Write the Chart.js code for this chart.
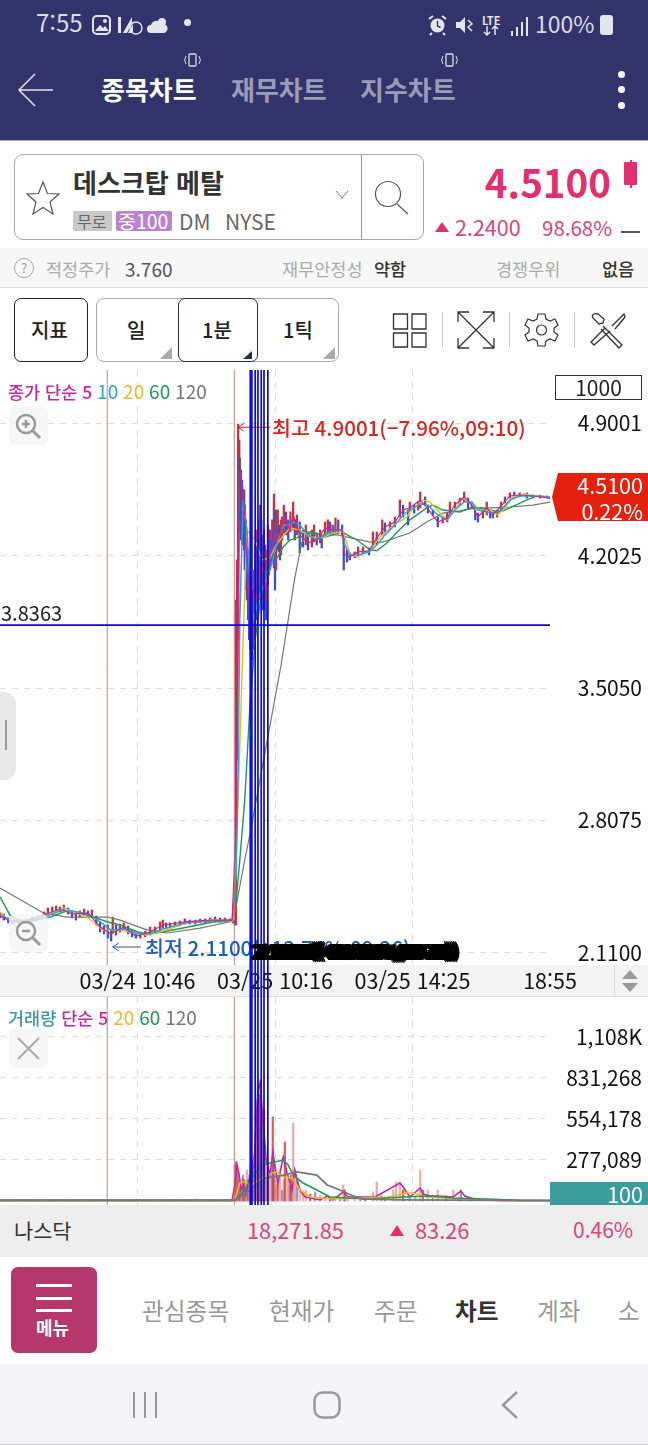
<!DOCTYPE html>
<html lang="ko"><head><meta charset="utf-8">
<script src="https://cdn.jsdelivr.net/npm/chart.js@4"></script>
<style>
html,body{margin:0;padding:0;background:#fff;width:648px;height:1445px;overflow:hidden;font-family:"Noto Sans CJK KR","Noto Sans",sans-serif}
.t{position:absolute;white-space:nowrap;line-height:1}
.b{position:absolute;box-sizing:border-box}
svg{position:absolute;overflow:visible}
canvas{position:absolute;left:0}
</style></head><body>
<script>
// ---------- price panel data ----------
const candleBars=[0,7,15,22,33,45,58,69,80,87,95,102,109,116,124,131,138,145,153,160,167,175,182,189,196,202,205,211,218,225,233,240,247,255,264,273,282,291,296,302,309,318,327,336,345,355,364,373,382,391,400,409,418,424,
427,429,431,433,435,436,438,440,442,444,445,447,449,451,453,455,456,458,460,462,464,465,467,469,471,473,475,476,478,480,482,484,485,487,489,491,493,495,496,498,500,502,504,505,507,509,511,513,516,520,524,528,533,536,540,545,551,556,560,567,571,576,582,585,591,596,600,605,610,615,622,625,631,636,645,651,660,671,678,685,695,700,709,718,727,733,742,745,753,760,764,773,778,787,796,805,813,818,827,836,844,851,858,864,869,878,885,891,896,904,911,918,927,935,945,958,969,982,995,1000];
const candleHigh=[2.319,2.314,2.293,2.282,2.288,2.282,2.298,2.303,2.325,2.346,2.351,2.356,2.351,2.361,2.346,2.325,2.314,2.330,2.340,2.330,2.335,2.303,2.272,2.251,2.256,2.230,2.298,2.256,2.261,2.267,2.251,2.230,2.214,2.219,2.224,2.245,2.245,2.272,2.282,2.267,2.267,2.272,2.277,2.288,2.282,2.282,2.288,2.288,2.293,2.298,2.293,2.293,2.288,2.288,
2.288,3.969,4.180,4.896,4.812,4.717,4.654,4.601,4.549,4.549,4.469,4.391,4.338,4.233,4.127,4.022,3.969,3.917,4.022,4.127,4.259,4.338,4.285,4.233,4.391,4.469,4.391,4.312,4.285,4.338,4.259,4.180,4.233,4.364,4.285,4.338,4.285,4.391,4.338,4.527,4.443,4.443,4.391,4.443,4.364,4.338,4.391,4.406,4.469,4.433,4.391,4.433,4.485,4.391,4.417,4.380,4.338,4.364,4.322,4.338,4.364,4.322,4.338,4.301,4.380,4.391,4.380,4.364,4.401,4.391,4.364,4.322,4.233,4.217,4.222,4.248,4.248,4.243,4.327,4.327,4.391,4.375,4.380,4.406,4.496,4.469,4.443,4.485,4.469,4.485,4.538,4.512,4.469,4.443,4.406,4.406,4.427,4.485,4.485,4.506,4.538,4.506,4.480,4.443,4.427,4.443,4.485,4.433,4.427,4.443,4.485,4.512,4.533,4.538,4.533,4.533,4.522,4.522,4.517,4.512];
const candleLow=[2.293,2.282,2.267,2.261,2.267,2.267,2.272,2.282,2.298,2.314,2.325,2.330,2.325,2.335,2.314,2.293,2.282,2.298,2.309,2.303,2.303,2.256,2.219,2.209,2.187,2.172,2.214,2.203,2.219,2.230,2.209,2.193,2.187,2.187,2.193,2.203,2.214,2.224,2.240,2.240,2.245,2.251,2.251,2.261,2.261,2.261,2.267,2.267,2.272,2.272,2.272,2.272,2.272,2.267,
2.256,2.256,3.127,3.759,4.338,4.391,4.285,4.259,4.338,4.233,4.127,4.022,3.969,3.864,3.759,3.707,3.680,3.654,3.707,3.759,3.838,3.917,3.864,3.864,3.969,4.022,3.969,3.917,3.917,3.969,3.917,3.864,3.969,4.048,4.101,4.127,4.154,4.206,4.180,4.138,4.022,4.127,4.233,4.259,4.222,4.180,4.206,4.285,4.322,4.312,4.285,4.327,4.338,4.285,4.312,4.217,4.248,4.259,4.233,4.248,4.275,4.259,4.270,4.243,4.301,4.322,4.317,4.312,4.327,4.322,4.312,4.127,4.169,4.180,4.191,4.196,4.217,4.206,4.259,4.259,4.312,4.327,4.338,4.354,4.406,4.406,4.364,4.433,4.427,4.443,4.454,4.469,4.427,4.417,4.354,4.375,4.380,4.427,4.454,4.469,4.485,4.454,4.454,4.391,4.380,4.401,4.417,4.401,4.401,4.406,4.443,4.480,4.506,4.512,4.512,4.506,4.506,4.506,4.506,4.501];
const ma5Bars=[0,22,45,80,109,131,160,182,202,225,247,273,296,336,382,422,429,433,436,442,449,455,462,469,476,484,491,500,509,516,527,533,545,560,576,591,605,622,627,636,651,671,685,700,718,733,745,764,778,796,813,827,844,858,869,885,896,911,927,945,969,1000];
const ma5=[2.303,2.272,2.277,2.309,2.340,2.314,2.319,2.245,2.209,2.245,2.198,2.219,2.256,2.272,2.282,2.282,2.757,3.707,4.654,4.549,4.180,3.864,3.917,4.022,4.154,4.022,4.206,4.312,4.312,4.417,4.338,4.417,4.312,4.270,4.285,4.348,4.338,4.338,4.206,4.196,4.222,4.228,4.296,4.354,4.380,4.443,4.454,4.496,4.449,4.380,4.401,4.469,4.512,4.469,4.406,4.454,4.417,4.464,4.517,4.522,4.517,4.506];
const ma10=[2.309,2.282,2.277,2.298,2.330,2.330,2.314,2.272,2.230,2.235,2.214,2.209,2.235,2.267,2.277,2.282,2.494,3.073,3.864,4.496,4.338,4.022,3.864,3.969,4.022,4.074,4.127,4.233,4.312,4.364,4.364,4.380,4.364,4.312,4.285,4.312,4.338,4.338,4.259,4.206,4.206,4.222,4.259,4.312,4.364,4.417,4.443,4.475,4.469,4.417,4.391,4.443,4.485,4.485,4.443,4.433,4.427,4.443,4.496,4.517,4.517,4.512];
const ma20Bars=[0,18,42,73,115,158,187,218,242,267,291,340,387,422,425,433,442,449,464,476,491,500,509,527,545,564,587,605,624,636,649,673,691,715,740,745,769,782,800,813,824,842,860,873,891,905,918,933,951,976,1000];
const ma20=[2.325,2.277,2.282,2.293,2.346,2.298,2.230,2.230,2.214,2.203,2.219,2.267,2.282,2.277,2.282,2.915,3.759,4.338,4.285,4.180,4.191,4.248,4.285,4.348,4.338,4.301,4.296,4.322,4.327,4.217,4.196,4.233,4.301,4.364,4.406,4.433,4.496,4.485,4.427,4.391,4.433,4.506,4.469,4.443,4.443,4.417,4.454,4.512,4.527,4.517,4.512];
const ma60Bars=[0,18,36,60,91,122,158,196,218,255,285,333,387,422,429,436,445,455,464,476,491,504,515,527,540,551,569,591,622,649,673,685,704,722,745,776,787,805,836,860,891,909,927,958,976,1000];
const ma60=[2.404,2.309,2.272,2.277,2.298,2.330,2.309,2.272,2.256,2.214,2.214,2.240,2.272,2.277,2.372,2.599,2.915,3.442,3.759,4.022,4.191,4.191,4.248,4.285,4.296,4.327,4.327,4.301,4.327,4.285,4.233,4.228,4.270,4.327,4.391,4.454,4.469,4.443,4.433,4.459,4.443,4.433,4.454,4.496,4.517,4.512];
const ma120Bars=[0,79,122,196,218,267,304,364,424,433,445,455,511,536,549,564,582,613,673,696,745,776,805,836,867,896,927,969,1000];
const ma120=[2.451,2.319,2.298,2.298,2.282,2.230,2.214,2.240,2.277,2.414,2.599,2.742,3.626,4.085,4.274,4.322,4.312,4.312,4.274,4.274,4.322,4.380,4.427,4.438,4.454,4.454,4.459,4.469,4.485];
const priceTicks=[2.1100,2.8075,3.5050,4.2025,4.9001];
const timeTickBars=[250,500,750,1000];
const timeLabels=["03/24 10:46","03/25 10:16","03/25 14:25","18:55"];
const blueLineBars=[455,458,464,469,475,480,487];
const dayLineBars=[195,426];
const drawnPriceLevel=3.8363;
// ---------- volume panel data ----------
const volBars=[9,27,45,64,82,100,118,136,155,173,191,209,227,245,264,282,300,318,336,355,373,391,409,420,
427,429,431,433,435,436,438,440,442,444,445,447,449,451,453,455,456,458,460,462,464,465,467,469,471,473,475,476,478,480,482,484,485,487,489,493,495,496,498,500,502,505,509,513,516,518,520,524,527,529,531,533,536,540,545,551,556,564,573,582,591,600,609,618,624,627,633,645,655,664,678,685,693,700,715,720,727,733,745,755,764,769,778,787,796,811,824,833,838,855,873,909,945,982,1000];
const volume=[7000,6000,9000,7000,6000,8000,6000,7000,9000,7000,6000,8000,7000,10000,7000,6000,7000,9000,12000,14000,7000,6000,7000,6000,
243000,263000,243000,196000,142000,108000,88000,155000,175000,142000,74000,121000,209000,142000,175000,243000,175000,276000,209000,310000,243000,479000,681000,782000,816000,715000,613000,411000,546000,613000,378000,276000,175000,142000,175000,155000,209000,566000,276000,175000,108000,142000,196000,74000,142000,398000,243000,142000,108000,175000,74000,526000,209000,142000,88000,61000,74000,47000,61000,40000,27000,20000,20000,27000,108000,74000,27000,20000,13000,13000,61000,128000,40000,13000,74000,128000,128000,74000,27000,34000,209000,74000,74000,27000,74000,34000,74000,27000,74000,20000,13000,7000,7000,7000,7000];
const volMa5Bars=[0,110,210,330,422,427,431,435,438,442,447,455,462,469,473,478,484,491,496,505,515,522,531,536,545,555,564,582,595,605,624,633,682,727,733,745,764,769,782,796,824,838,845,867,915,1000];
const volMa5=[3000,3000,3000,3000,4000,108000,243000,175000,74000,108000,40000,175000,243000,748000,796000,546000,276000,175000,330000,121000,297000,189000,74000,209000,74000,27000,20000,7000,34000,7000,61000,27000,27000,121000,94000,27000,88000,47000,34000,34000,27000,67000,34000,7000,3000,3000];
const volMa20Bars=[0,422,427,436,442,447,455,495,504,515,531,545,564,582,605,660,704,740,751,776,805,855,885,915,1000];
const volMa20=[3000,3000,7000,121000,128000,128000,108000,189000,196000,162000,155000,74000,27000,20000,13000,20000,27000,54000,54000,27000,20000,13000,7000,3000,3000];
const volMa60Bars=[0,422,427,445,455,469,478,491,515,524,533,551,576,600,631,673,733,782,824,885,945,1000];
const volMa60=[4000,4000,4000,74000,142000,209000,243000,256000,276000,243000,175000,121000,74000,27000,20000,13000,27000,34000,20000,13000,4000,3000];
const volMa120Bars=[0,422,427,455,482,515,540,576,595,618,642,660,733,1000];
const volMa120=[5000,5000,5000,74000,155000,175000,196000,175000,108000,74000,34000,13000,7000,3000];
const volTicks=[277089,554178,831268,1108357];
const volTickLabels=["277,089","554,178","831,268","1,108K"];
// ---------- text ----------
const highLabel="최고 4.9001(−7.96%,09:10)";
const lowLabel="최저 2.1100(+13.74%,09:26)";
const overdrawnLabels=["2.1100(+13.74%,09:26)","2.1100(+12.93%,09:28)","2.1100(+14.02%,09:31)","2.1100(+13.12%,09:32)"];

const FONT='"Noto Sans CJK KR","Noto Sans",sans-serif';
const pts=(xs,ys)=>xs.map((x,i)=>({x,y:ys[i]}));
const line=(xs,ys,color,w,order)=>({type:'line',data:pts(xs,ys),borderColor:color,borderWidth:w,pointRadius:0,tension:0,order,fill:false});
const grid={color:c=>(c.tick&&c.tick.value===1000)?'transparent':'#dedede',lineWidth:1};
const noEdgePadding=s=>{s.paddingTop=0;s.paddingBottom=0;};
const C={ma5:'#c9259e',ma10:'#2ba6d0',ma20:'#eab92c',ma60:'#1f9a55',ma120:'#777777'};
</script>

<!-- header -->
<div class="b" style="left:0;top:0;width:648px;height:141px;background:#32336a;border-bottom:1px solid #a9aabd"></div>
<div class="t" style="left:36px;top:10px;font-size:24px;color:#dcdce8">7:55</div>
<svg style="left:92px;top:15px" width="20" height="20" viewBox="0 0 20 20"><rect x="1" y="1" width="17" height="18" rx="4" fill="none" stroke="#e4e4ef" stroke-width="2"/><path d="M3 16l5-6 3 3 2-2 4 5z" fill="#e4e4ef"/><circle cx="13" cy="6" r="2" fill="#e4e4ef"/></svg>
<svg style="left:117px;top:15px" width="26" height="22" viewBox="0 0 26 22"><path d="M1 2h3v16H1zM6 18L15 2v6l-5 10zM11 18l5-9v9z" fill="#e4e4ef"/><circle cx="19" cy="13" r="6" fill="none" stroke="#e4e4ef" stroke-width="1.4"/></svg>
<svg style="left:148px;top:14px" width="22" height="22" viewBox="0 0 22 22"><circle cx="14" cy="8" r="4" fill="#e4e4ef"/><path d="M3 19a4 4 0 010-8 6 6 0 0111-1 4.500 4.500 0 012 9z" fill="#e4e4ef"/></svg>
<div class="b" style="left:184px;top:19px;width:7px;height:7px;border-radius:50%;background:#e4e4ef"></div>
<svg style="left:428px;top:14px" width="20" height="22" viewBox="0 0 20 22"><circle cx="9.500" cy="11.500" r="7" fill="#e4e4ef"/><path d="M9.500 7v5l3 1.500" stroke="#32336a" stroke-width="1.400" fill="none"/><path d="M1 5l4-3M18 5l-4-3M4 19l-2 2M15 19l2 2" stroke="#e4e4ef" stroke-width="2"/></svg>
<svg style="left:455px;top:15px" width="18" height="20" viewBox="0 0 18 20"><path d="M1 7h4l5-5v16l-5-5H1z" fill="#e4e4ef"/><path d="M13 5l4 4-4 3 4 4" stroke="#e4e4ef" stroke-width="1.500" fill="none"/></svg>
<div class="t" style="left:482px;top:15px;font-size:11px;font-weight:700;color:#e4e4ef">LTE</div>
<svg style="left:483px;top:26px" width="18" height="10" viewBox="0 0 18 10"><path d="M4 0v9M1 6l3 3 3-3M12 9V0M9 3l3-3 3 3" stroke="#e4e4ef" stroke-width="1.500" fill="none"/></svg>
<svg style="left:510px;top:16px" width="18" height="21" viewBox="0 0 18 21"><path d="M2 15v5M7 11v9M12 6v14M17 1v19" stroke="#e4e4ef" stroke-width="2"/></svg>
<div class="t" style="left:535px;top:12px;font-size:23px;color:#dcdce8">100%</div>
<div class="b" style="left:600px;top:15px;width:13px;height:20px;border-radius:3px;background:#e4e4ef"></div>
<svg style="left:18px;top:73px" width="36" height="34" viewBox="0 0 36 34"><path d="M35 17H1M17 1L1 17l16 16" stroke="#e4e4ef" stroke-width="1.500" fill="none"/></svg>
<div class="t" style="left:101px;top:76px;font-size:26px;font-weight:700;color:#fff">종목차트</div>
<div class="t" style="left:231px;top:76px;font-size:26px;font-weight:700;color:#9c9cb9">재무차트</div>
<div class="t" style="left:360px;top:76px;font-size:26px;font-weight:700;color:#9c9cb9">지수차트</div>
<svg style="left:184px;top:51px" width="17" height="18" viewBox="0 0 17 18"><rect x="5" y="3" width="7" height="12" rx="1" fill="none" stroke="#dcdce8" stroke-width="1.300"/><path d="M2 13a7 7 0 010-8M15 5a7 7 0 010 8" stroke="#dcdce8" fill="none"/></svg>
<svg style="left:441px;top:51px" width="17" height="18" viewBox="0 0 17 18"><rect x="5" y="3" width="7" height="12" rx="1" fill="none" stroke="#dcdce8" stroke-width="1.300"/><path d="M2 13a7 7 0 010-8M15 5a7 7 0 010 8" stroke="#dcdce8" fill="none"/></svg>
<div class="b" style="left:618px;top:71px;width:7px;height:7px;border-radius:50%;background:#fff"></div>
<div class="b" style="left:618px;top:86px;width:7px;height:7px;border-radius:50%;background:#fff"></div>
<div class="b" style="left:618px;top:102px;width:7px;height:7px;border-radius:50%;background:#fff"></div>

<!-- symbol box -->
<div class="b" style="left:14px;top:154px;width:410px;height:86px;border:1.5px solid #a8a8a8;border-radius:9px"></div>
<div class="b" style="left:361px;top:155px;width:1px;height:85px;background:#999"></div>
<svg style="left:25px;top:180px" width="36" height="36" viewBox="0 0 36 36"><path d="M18 2l4.500 11.500L34 14l-9 8 3 12-10-6.500L8 34l3-12-9-8 11.500-.5z" fill="none" stroke="#555" stroke-width="1.200"/></svg>
<div class="t" style="left:73px;top:169px;font-size:26px;font-weight:700;color:#333">데스크탑 메탈</div>
<div class="b" style="left:73px;top:211px;width:39px;height:20px;background:#c9c9c9"></div>
<div class="t" style="left:77px;top:213px;font-size:16px;color:#666">무로</div>
<div class="b" style="left:116px;top:211px;width:56px;height:20px;background:#b983d2;border-radius:2px"></div>
<div class="t" style="left:118px;top:211px;font-size:19.500px;color:#fff">중100</div>
<div class="t" style="left:179px;top:211px;font-size:21px;color:#666">DM</div>
<div class="t" style="left:225px;top:211px;font-size:21px;color:#666">NYSE</div>
<svg style="left:335px;top:190px" width="14" height="10" viewBox="0 0 14 10"><path d="M1 1l6 7 6-7" stroke="#777" fill="none"/></svg>
<svg style="left:374px;top:179px" width="36" height="36" viewBox="0 0 36 36"><circle cx="14" cy="15" r="12.500" fill="none" stroke="#555" stroke-width="1.200"/><path d="M23 25l11 10" stroke="#555" stroke-width="1.200"/></svg>
<div class="t" style="right:37px;top:162px;font-size:38.500px;font-weight:700;color:#e0306f">4.5100</div>
<div class="b" style="left:624px;top:162px;width:13px;height:23px;background:#e0306f;border-radius:1px"></div>
<div class="b" style="left:629.500px;top:160px;width:2px;height:28px;background:#e0306f"></div>
<svg style="left:435px;top:222px" width="14" height="10" viewBox="0 0 14 10"><path d="M0 10L7 0l7 10z" fill="#e0306f"/></svg>
<div class="t" style="left:455px;top:216px;font-size:21.500px;color:#d9457e">2.2400</div>
<div class="t" style="left:542px;top:217px;font-size:20.500px;color:#d9457e">98.68%</div>
<div class="b" style="left:621px;top:231px;width:19px;height:1.500px;background:#555"></div>

<!-- ratings strip -->
<div class="b" style="left:0;top:248px;width:648px;height:40px;background:#f7f7f7;border-bottom:1px solid #ddd"></div>
<div class="b" style="left:14px;top:258px;width:20px;height:20px;border:1px solid #aaa;border-radius:50%;font-size:13px;line-height:18px;text-align:center;color:#999">?</div>
<div class="t" style="left:46px;top:260px;font-size:17.500px;color:#aaa">적정주가</div>
<div class="t" style="left:125px;top:259px;font-size:19px;color:#555">3.760</div>
<div class="t" style="left:282px;top:260px;font-size:17.500px;color:#aaa">재무안정성</div>
<div class="t" style="left:374px;top:260px;font-size:17.500px;font-weight:500;color:#333">약함</div>
<div class="t" style="left:496px;top:260px;font-size:17.500px;color:#aaa">경쟁우위</div>
<div class="t" style="left:602px;top:260px;font-size:17.500px;font-weight:500;color:#333">없음</div>

<!-- toolbar -->
<div class="b" style="left:14px;top:298px;width:74px;height:64px;border:1.500px solid #222;border-radius:7px"></div>
<div class="t" style="left:31px;top:320px;font-size:20px;font-weight:500;color:#222">지표</div>
<div class="b" style="left:96px;top:298px;width:243px;height:64px;border:1px solid #aaa;border-radius:8px"></div>
<div class="b" style="left:178px;top:298px;width:80px;height:64px;border:1.500px solid #26275e;border-radius:7px"></div>
<div class="t" style="left:127px;top:320px;font-size:20px;font-weight:500;color:#222">일</div>
<div class="t" style="left:202px;top:320px;font-size:20px;font-weight:500;color:#222">1분</div>
<div class="t" style="left:283px;top:320px;font-size:20px;font-weight:500;color:#222">1틱</div>
<svg style="left:160px;top:347px" width="12" height="12"><path d="M0 12L12 0v12z" fill="#aaa"/></svg>
<svg style="left:243px;top:351px" width="9" height="8"><path d="M0 8L9 0v8z" fill="#26275e"/></svg>
<svg style="left:323px;top:347px" width="12" height="12"><path d="M0 12L12 0v12z" fill="#aaa"/></svg>
<svg style="left:392px;top:313px" width="36" height="35" viewBox="0 0 36 35"><path d="M1.500 1h14v15h-14zM20 1h14v15H20zM1.500 20h14v14h-14zM20 20h14v14H20z" fill="none" stroke="#333" stroke-width="1.300"/></svg>
<div class="b" style="left:442px;top:312px;width:1px;height:36px;background:#ccc"></div>
<svg style="left:457px;top:311px" width="38" height="38" viewBox="0 0 38 38"><path d="M1 1l36 36M37 1L1 37M1 11V1h11M26 1h11v10M1 27v10h11M37 27v10H26" fill="none" stroke="#333" stroke-width="1.300"/></svg>
<div class="b" style="left:509px;top:312px;width:1px;height:36px;background:#ccc"></div>
<svg style="left:524px;top:312px" width="35" height="36" viewBox="0 0 35 36"><path d="M14 2h7l1 5 4 2 5-2 3 6-4 3v4l4 3-3 6-5-2-4 2-1 5h-7l-1-5-4-2-5 2-3-6 4-3v-4l-4-3 3-6 5 2 4-2z" fill="none" stroke="#333" stroke-width="1.200"/><circle cx="17.500" cy="18" r="5" fill="none" stroke="#333" stroke-width="1.200"/></svg>
<div class="b" style="left:574px;top:312px;width:1px;height:36px;background:#ccc"></div>
<svg style="left:590px;top:312px" width="36" height="36" viewBox="0 0 36 36"><path d="M3 6l6 6 4-1 1-4-6-5C4 1 1 3 3 6zM13 14l19 19-3 3L11 17M22 14L34 2l1 3-10 12M20 19L4 33l-3-3 14-14" fill="none" stroke="#333" stroke-width="1.300"/></svg>

<canvas id="price" width="648" height="627" style="top:370px;width:648px;height:627px"></canvas>
<canvas id="vol" width="648" height="208" style="top:997px;width:648px;height:208px"></canvas>

<!-- chart overlays -->
<div class="t" style="left:8px;top:381px;font-size:17.500px;font-weight:500"><span style="color:#c9259e">종가 단순 5</span> <span style="color:#2ba6d0;font-weight:400;font-size:19px">10</span> <span style="color:#eab92c;font-weight:400;font-size:19px">20</span> <span style="color:#1f9a55;font-weight:400;font-size:19px">60</span> <span style="color:#777;font-weight:400;font-size:19px">120</span></div>
<div class="b" style="left:555px;top:375px;width:87px;height:25px;border:1px solid #333;background:#fff;font-size:21px;line-height:23px;text-align:center;color:#222">1000</div>
<div class="b" style="left:9px;top:407px;width:39px;height:38px;border-radius:6px;background:rgba(245,245,245,.8)"></div>
<svg style="left:15px;top:413px" width="27" height="27" viewBox="0 0 27 27"><circle cx="11" cy="11" r="9" fill="none" stroke="#999" stroke-width="2.500"/><path d="M7 11h8M11 7v8" stroke="#999" stroke-width="2.500"/><path d="M18 18l7 7" stroke="#999" stroke-width="3"/></svg>
<div class="b" style="left:9px;top:914px;width:39px;height:38px;border-radius:6px;background:rgba(245,245,245,.8)"></div>
<svg style="left:15px;top:920px" width="27" height="27" viewBox="0 0 27 27"><circle cx="11" cy="11" r="9" fill="none" stroke="#999" stroke-width="2.500"/><path d="M7 11h8" stroke="#999" stroke-width="2.500"/><path d="M18 18l7 7" stroke="#999" stroke-width="3"/></svg>
<div class="b" style="left:0;top:692px;width:16px;height:88px;background:#e9e9e9;border-radius:0 12px 12px 0"></div>
<div class="b" style="left:5px;top:720px;width:2px;height:30px;background:#999"></div>
<svg style="left:550px;top:473px" width="98" height="48"><path d="M2 24L8 0h90v48H8z" fill="#e6200f"/></svg>
<div class="t" style="right:5px;top:474px;font-size:21.500px;color:#fff">4.5100</div>
<div class="t" style="right:5px;top:500px;font-size:21.500px;color:#fff">0.22%</div>
<div class="b" style="left:614px;top:966px;width:1px;height:30px;background:#ddd"></div>
<svg style="left:622px;top:970px" width="16" height="22"><path d="M0 9L8 0l8 9zM0 13h16l-8 9z" fill="#999"/></svg>
<div class="t" style="left:8px;top:1007px;font-size:17.500px;font-weight:500"><span style="color:#3a9a9a">거래량</span> <span style="color:#c9259e">단순 5</span> <span style="color:#eab92c;font-weight:400;font-size:19px">20</span> <span style="color:#1f9a55;font-weight:400;font-size:19px">60</span> <span style="color:#777;font-weight:400;font-size:19px">120</span></div>
<div class="b" style="left:9px;top:1029px;width:39px;height:39px;border-radius:6px;background:rgba(245,245,245,.8)"></div>
<svg style="left:17px;top:1037px" width="23" height="23"><path d="M1 1l21 21M22 1L1 22" stroke="#aaa" stroke-width="2"/></svg>
<div class="b" style="left:550px;top:1182px;width:98px;height:23px;background:#3d9c9c"></div>
<div class="t" style="right:5px;top:1183px;font-size:21.500px;color:#fff">100</div>

<!-- index strip and bottom nav -->
<div class="b" style="left:0;top:1205px;width:648px;height:52px;background:#eeeeee"></div>
<div class="t" style="left:14px;top:1220px;font-size:20.800px;color:#333">나스닥</div>
<div class="t" style="left:247px;top:1219px;font-size:21.800px;color:#d9457e">18,271.85</div>
<svg style="left:390px;top:1225px" width="14" height="11"><path d="M0 11L7 0l7 11z" fill="#e0306f"/></svg>
<div class="t" style="left:415px;top:1219px;font-size:21.800px;color:#d9457e">83.26</div>
<div class="t" style="left:573px;top:1219px;font-size:21px;color:#d9457e">0.46%</div>
<div class="b" style="left:11px;top:1267px;width:86px;height:86px;background:#b5376b;border-radius:7px"></div>
<div class="b" style="left:36px;top:1284px;width:36px;height:2.500px;background:#fff"></div>
<div class="b" style="left:36px;top:1297px;width:36px;height:2.500px;background:#fff"></div>
<div class="b" style="left:36px;top:1309px;width:36px;height:2.500px;background:#fff"></div>
<div class="t" style="left:36px;top:1318px;font-size:18px;font-weight:700;color:#fff">메뉴</div>
<div class="t" style="left:142px;top:1299px;font-size:23.700px;color:#999">관심종목</div>
<div class="t" style="left:269px;top:1299px;font-size:23.700px;color:#999">현재가</div>
<div class="t" style="left:374px;top:1299px;font-size:23.700px;color:#999">주문</div>
<div class="t" style="left:455px;top:1299px;font-size:23.700px;font-weight:700;color:#333">차트</div>
<div class="t" style="left:537px;top:1299px;font-size:23.700px;color:#999">계좌</div>
<div class="t" style="left:618px;top:1299px;font-size:23.700px;color:#999">소</div>
<div class="b" style="left:0;top:1364px;width:648px;height:81px;background:#f5f5f7;border-bottom:1px solid #ccc"></div>
<svg style="left:132px;top:1392px" width="26" height="26"><path d="M2 0v26M13 0v26M24 0v26" stroke="#999" stroke-width="2"/></svg>
<svg style="left:313px;top:1391px" width="28" height="28"><rect x="1.500" y="1.500" width="25" height="25" rx="8" fill="none" stroke="#999" stroke-width="2.500"/></svg>
<svg style="left:501px;top:1391px" width="17" height="28"><path d="M16 1L2 14l14 13" stroke="#999" stroke-width="2.500" fill="none"/></svg>
<script>
const mids=candleBars.map((b,i)=>(candleHigh[i]+candleLow[i])/2);
const candleColors=mids.map((m,i)=>(i===0||m>=mids[i-1])?'#c8323a':'#3d4fc0');
const candles=candleBars.map((b,i)=>({x:b,y:[candleLow[i],candleHigh[i]]}));
const priceOverlay={id:'priceOverlay',
 beforeDraw(c){const g=c.ctx;g.save();g.fillStyle='#f3f3f3';g.fillRect(0,595,648,32);g.fillStyle='#dcdcdc';g.fillRect(0,626,648,1);g.restore();},
 afterDatasetsDraw(c){const g=c.ctx,x=c.scales.x,y=c.scales.y;g.save();
  g.strokeStyle='rgba(190,90,90,.75)';g.lineWidth=1;
  dayLineBars.forEach(b=>{const p=x.getPixelForValue(b);g.beginPath();g.moveTo(p,0);g.lineTo(p,595);g.stroke();});
  const py=y.getPixelForValue(drawnPriceLevel);
  g.strokeStyle='#0a0ac8';g.lineWidth=1.6;g.beginPath();g.moveTo(0,py);g.lineTo(550,py);g.stroke();
  g.fillStyle='#222';g.font='20px '+FONT;g.textBaseline='alphabetic';g.fillText(drawnPriceLevel.toFixed(4),1,py-4);
  g.restore();},
 afterDraw(c){const g=c.ctx,x=c.scales.x,y=c.scales.y;g.save();
  const hx=x.getPixelForValue(433),hy=y.getPixelForValue(4.9001)+4;
  g.strokeStyle='#d9261c';g.fillStyle='#d9261c';g.lineWidth=1;
  g.beginPath();g.moveTo(hx+32,hy);g.lineTo(hx,hy);g.moveTo(hx+6,hy-4);g.lineTo(hx,hy);g.lineTo(hx+6,hy+4);g.stroke();
  g.font='500 20.600px '+FONT;g.textBaseline='middle';g.fillText(highLabel,272,hy+1);
  const lx=x.getPixelForValue(205),ly=577;
  g.strokeStyle='#1f5fb4';g.fillStyle='#1f5fb4';
  g.beginPath();g.moveTo(lx+28,ly);g.lineTo(lx,ly);g.moveTo(lx+6,ly-4);g.lineTo(lx,ly);g.lineTo(lx+6,ly+4);g.stroke();
  g.font='500 20.600px '+FONT;g.fillText(lowLabel,145,ly+1);
  g.strokeStyle='#0a0ad8';g.lineWidth=1.7;
  blueLineBars.forEach(b=>{const p=x.getPixelForValue(b);g.beginPath();g.moveTo(p,0);g.lineTo(p,627);g.stroke();});
  g.fillStyle='#000';g.font='19px '+FONT;g.textAlign='left';
  for(let i=0;i<21;i++){g.fillText(overdrawnLabels[i%4],250+i*0.6,581+(i%3)*.8);}
  g.restore();}
};
new Chart(document.getElementById('price'),{type:'bar',
 data:{datasets:[
  {type:'bar',data:candles,backgroundColor:candleColors,barThickness:1.6,order:10},
  line(ma120Bars,ma120,C.ma120,1.2,5),line(ma60Bars,ma60,C.ma60,1.4,4),line(ma20Bars,ma20,C.ma20,1.4,3),
  line(ma5Bars,ma10,C.ma10,1.5,2),line(ma5Bars,ma5,C.ma5,1.2,1)]},
 options:{responsive:false,animation:false,layout:{padding:{right:6}},
  plugins:{legend:{display:false},tooltip:{enabled:false}},
  scales:{
   x:{type:'linear',min:0,max:1000,offset:false,border:{display:false,dash:[6,6]},
    grid:{...grid,offset:false,drawTicks:false},
    afterBuildTicks:s=>{s.ticks=timeTickBars.map(v=>({value:v}));},
    afterFit:s=>{s.height=32;},
    ticks:{autoSkip:false,maxRotation:0,padding:3,color:'#111',font:{family:FONT,size:21.5},callback:v=>timeLabels[timeTickBars.indexOf(v)]}},
   y:{position:'right',min:2.0452,max:5.1809,offset:false,border:{display:false,dash:[6,6]},
    grid:{color:'#dedede',drawTicks:false},
    afterBuildTicks:s=>{s.ticks=priceTicks.map(v=>({value:v}));},
    afterFit:s=>{s.width=92;noEdgePadding(s);},
    ticks:{autoSkip:false,crossAlign:'far',padding:12,color:'#111',font:{family:FONT,size:21},callback:v=>v.toFixed(4)}}
  }},
 plugins:[priceOverlay]});

const volColors=volBars.map((b,i)=>i%5===2?'rgba(58,70,180,.55)':(i%4===1?'rgba(205,60,50,.8)':'rgba(222,110,100,.55)'));
const volOverlay={id:'volOverlay',
 afterDatasetsDraw(c){const g=c.ctx,x=c.scales.x;g.save();
  g.strokeStyle='rgba(190,90,90,.75)';g.lineWidth=1;
  dayLineBars.forEach(b=>{const p=x.getPixelForValue(b);g.beginPath();g.moveTo(p,0);g.lineTo(p,208);g.stroke();});
  g.restore();},
 afterDraw(c){const g=c.ctx,x=c.scales.x;g.save();g.strokeStyle='#0a0ad8';g.lineWidth=1.7;
  blueLineBars.forEach(b=>{const p=x.getPixelForValue(b);g.beginPath();g.moveTo(p,0);g.lineTo(p,208);g.stroke();});
  g.restore();}
};
new Chart(document.getElementById('vol'),{type:'bar',
 data:{datasets:[
  {type:'bar',data:pts(volBars,volume),backgroundColor:volColors,barThickness:1.6,order:10},
  line(volMa5Bars,volMa5,C.ma5,1.6,5),line(volMa20Bars,volMa20,C.ma20,1.6,4),line(volMa60Bars,volMa60,C.ma60,1.6,2),line(volMa120Bars,volMa120,C.ma120,1.8,1)]},
 options:{responsive:false,animation:false,layout:{padding:{right:6}},
  plugins:{legend:{display:false},tooltip:{enabled:false}},
  scales:{
   x:{type:'linear',min:0,max:1000,offset:false,border:{display:false,dash:[6,6]},
    grid:{...grid,offset:false,drawTicks:false},
    afterBuildTicks:s=>{s.ticks=timeTickBars.map(v=>({value:v}));},
    afterFit:s=>{s.height=0;},
    ticks:{display:false}},
   y:{position:'right',min:-27000,max:1375000,offset:false,border:{display:false,dash:[6,6]},
    grid:{color:'#dedede',drawTicks:false},
    afterBuildTicks:s=>{s.ticks=volTicks.map(v=>({value:v}));},
    afterFit:s=>{s.width=92;noEdgePadding(s);},
    ticks:{autoSkip:false,crossAlign:'far',padding:0,color:'#111',font:{family:FONT,size:21},callback:v=>volTickLabels[volTicks.indexOf(v)]}}
  }},
 plugins:[volOverlay]});
</script>
</body></html>
